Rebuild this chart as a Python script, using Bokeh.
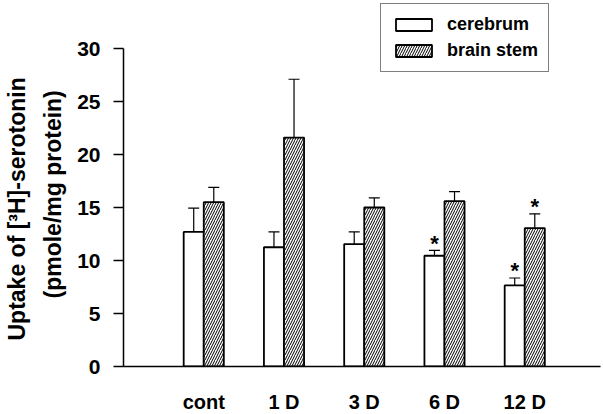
from bokeh.plotting import figure
from bokeh.models import ColumnDataSource, Whisker, FixedTicker, Range1d, Legend, LegendItem, Title
from bokeh.core.properties import value
from bokeh.embed import file_html
from bokeh.resources import INLINE

groups = ["cont", "1 D", "3 D", "6 D", "12 D"]
cerebrum = [12.7, 11.25, 11.55, 10.45, 7.65]
cerebrum_err = [14.95, 12.7, 12.7, 10.95, 8.35]
brainstem = [15.5, 21.6, 15.0, 15.6, 13.05]
brainstem_err = [16.9, 27.1, 15.9, 16.5, 14.4]
cerebrum_sig = [False, False, False, True, True]
brainstem_sig = [False, False, False, False, True]
yticks = [0, 5, 10, 15, 20, 25, 30]
ylabel_lines = ["Uptake of [\u00b3H]-serotonin", "(pmole/mg protein)"]

pos = list(range(1, len(groups) + 1))
w = 0.25
xc = [p - w / 2 for p in pos]
xb = [p + w / 2 for p in pos]

src_c = ColumnDataSource(dict(x=xc, top=cerebrum, err=cerebrum_err))
src_b = ColumnDataSource(dict(x=xb, top=brainstem, err=brainstem_err))

FONT = "Liberation Sans"

p = figure(width=603, height=414, output_backend="svg", toolbar_location=None,
           x_range=Range1d(0, 5.944), y_range=Range1d(0, 34.53),
           min_border_left=123, min_border_right=3, min_border_top=0, min_border_bottom=48,
           frame_width=477, frame_height=366)
p.outline_line_color = None
p.xgrid.visible = False
p.ygrid.visible = False
p.background_fill_color = "white"

rc = p.vbar(x="x", top="top", width=w, source=src_c, fill_color="white",
            line_color="black", line_width=1.8)
rb = p.vbar(x="x", top="top", width=w, source=src_b, fill_color="white",
            line_color="black", line_width=1.8, hatch_pattern="/",
            hatch_color="black", hatch_scale=5, hatch_weight=1)

for src in (src_c, src_b):
    wh = Whisker(base="x", lower="top", upper="err", source=src,
                 line_color="black", line_width=1.2)
    wh.lower_head = None
    wh.upper_head.size = 11
    wh.upper_head.line_width = 1.2
    p.add_layout(wh)

# asterisks
ax = [xc[i] for i in range(len(groups)) if cerebrum_sig[i]] + \
     [xb[i] for i in range(len(groups)) if brainstem_sig[i]]
ay = [cerebrum_err[i] for i in range(len(groups)) if cerebrum_sig[i]] + \
     [brainstem_err[i] for i in range(len(groups)) if brainstem_sig[i]]
p.text(x=ax, y=ay, text=["*"] * len(ax), text_align="center", text_baseline="middle",
       y_offset=-7, text_font=value(FONT), text_font_style="bold",
       text_font_size="22px", text_color="black")

# y axis
yax = p.yaxis[0]
yax.ticker = FixedTicker(ticks=yticks)
yax.bounds = (0, 30)
yax.minor_tick_line_color = None
yax.major_tick_out = 10
yax.major_tick_in = 0
yax.axis_line_width = 1.5
yax.major_tick_line_width = 1.5
yax.major_label_text_font = FONT
yax.major_label_text_font_size = "21px"
yax.major_label_text_font_style = "bold"
yax.major_label_text_color = "black"
yax.major_label_standoff = 13

# y axis title as two left-side titles (second line nearest the axis)
for txt, off, so in ((ylabel_lines[1], 68, 18), (ylabel_lines[0], 26, -2)):
    t = Title(text=txt, align="left", offset=off, text_font=FONT,
              text_font_size="23px", text_font_style="bold", text_color="black",
              standoff=so)
    p.add_layout(t, "left")

# x axis
xax = p.xaxis[0]
xax.ticker = FixedTicker(ticks=pos)
xax.major_label_overrides = {p_: g for p_, g in zip(pos, groups)}
xax.major_tick_line_color = None
xax.minor_tick_line_color = None
xax.axis_line_width = 1.5
xax.major_label_text_font = FONT
xax.major_label_text_font_size = "20px"
xax.major_label_text_font_style = "bold"
xax.major_label_text_color = "black"
xax.major_label_standoff = 18

legend = Legend(items=[LegendItem(label="cerebrum", renderers=[rc]),
                       LegendItem(label="brain stem", renderers=[rb])],
                location=(257, 294), orientation="vertical")
legend.border_line_color = "black"
legend.border_line_width = 1
legend.background_fill_alpha = 1
legend.glyph_width = 45
legend.glyph_height = 15
legend.label_height = 20
legend.label_standoff = 11
legend.spacing = 5
legend.padding = 10
legend.margin = 0
legend.label_text_font = FONT
legend.label_text_font_size = "18px"
legend.label_text_font_style = "bold"
legend.label_text_color = "black"
p.add_layout(legend)

open("out.html", "w").write(file_html(p, INLINE))
